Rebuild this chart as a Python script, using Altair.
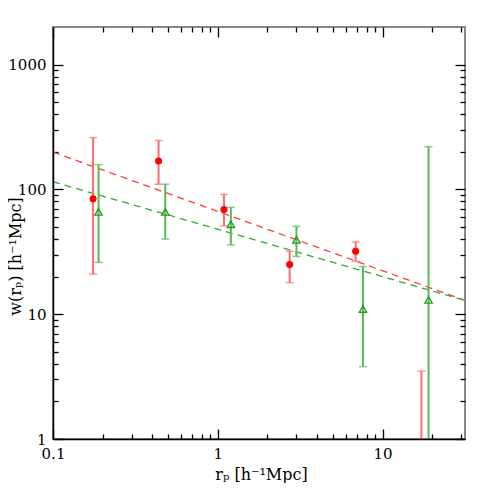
import altair as alt
import pandas as pd

# ---- data ----
red_x = [0.175, 0.437, 1.09, 2.73, 6.86, 17.2]
red_y = [84, 169, 69, 25, 31.9, None]
red_hi = [260, 247, 91, 31.9, 37.9, 3.5]
red_lo = [21, 110, 51, 17.9, 26.5, 0.3]

green_x = [0.189, 0.48, 1.2, 3.0, 7.6, 19.0]
green_y = [66, 66, 52.5, 39.4, 11.0, 13.0]
green_hi = [158, 110, 71.8, 50.6, 24.1, 220]
green_lo = [26, 40, 35.9, 29, 3.8, 0.3]

fit_x = [0.1, 31.62]
red_fit = [199, 12.9]
green_fit = [115, 12.9]

x_major = [0.1, 1, 10]
x_minor = [0.2, 0.3, 0.4, 0.5, 0.6, 0.7, 0.8, 0.9,
           2, 3, 4, 5, 6, 7, 8, 9, 20, 30]
y_major = [1, 10, 100, 1000]
y_minor = [2, 3, 4, 5, 6, 7, 8, 9,
           20, 30, 40, 50, 60, 70, 80, 90,
           200, 300, 400, 500, 600, 700, 800, 900]

series = ["red", "green"]
bar_colors = ["#ff6b6b", "#55bb55"]

# ---- tables ----
err = pd.DataFrame({
    "x": red_x + green_x,
    "lo": red_lo + green_lo,
    "hi": red_hi + green_hi,
    "s": ["red"] * len(red_x) + ["green"] * len(green_x),
})
pts_red = pd.DataFrame({"x": red_x, "y": red_y}).dropna()
pts_green = pd.DataFrame({"x": green_x, "y": green_y})
fit = pd.DataFrame({"x": fit_x, "red": red_fit, "green": green_fit})

FONT = "DejaVu Serif"
xscale = alt.Scale(type="log", domain=[0.1, 31.62], nice=False)
yscale = alt.Scale(type="log", domain=[1, 2000], nice=False)
cscale = alt.Scale(domain=series, range=bar_colors)

common = dict(grid=False, domain=False, tickColor="black", tickWidth=1.3)


def tick_axis(orient, values, size, labels=False, **kw):
    return alt.Axis(orient=orient, values=values, offset=-size, tickSize=size,
                    labels=labels, **common, **kw)


ax_bottom_major = tick_axis(
    "bottom", x_major, 10, labels=True, format="~g", labelFont=FONT,
    labelFontSize=15, labelColor="black", labelPadding=7, labelFlush=False,
    title="rₚ [h⁻¹Mpc]", titleFont=FONT, titleFontSize=16,
    titleFontWeight="normal", titleColor="black",
    titleX=208, titleY=37, titleAlign="center", titleBaseline="top")
ax_left_major = tick_axis(
    "left", y_major, 10, labels=True, format="~g", labelFont=FONT,
    labelFontSize=15, labelColor="black", labelPadding=7,
    title="w(rₚ) [h⁻¹Mpc]", titleFont=FONT, titleFontSize=16,
    titleFontWeight="normal", titleColor="black",
    titleX=-40, titleY=229, titleAlign="center", titleBaseline="bottom",
    titleAngle=270)
ax_bottom_minor = tick_axis("bottom", x_minor, 5, title=None)
ax_left_minor = tick_axis("left", y_minor, 5, title=None)
ax_top_major = tick_axis("top", x_major, 10, title=None)
ax_right_major = tick_axis("right", y_major, 10, title=None)
ax_top_minor = tick_axis("top", x_minor, 5, title=None)
ax_right_minor = tick_axis("right", y_minor, 5, title=None)
ax_bottom_dom = alt.Axis(orient="bottom", values=x_major, ticks=False, labels=False,
                         grid=False, domain=True, domainColor="black",
                         domainWidth=1.5, title=None, zindex=1)
ax_left_dom = alt.Axis(orient="left", values=y_major, ticks=False, labels=False,
                       grid=False, domain=True, domainColor="black",
                       domainWidth=1.5, title=None, zindex=1)

red_line = alt.Chart(fit).mark_line(
    color="#ff3b3b", strokeDash=[7, 5], strokeWidth=1.3, clip=True
).encode(
    x=alt.X("x:Q", scale=xscale, axis=ax_bottom_major),
    y=alt.Y("red:Q", scale=yscale, axis=ax_left_major),
)
green_line = alt.Chart(fit).mark_line(
    color="#33aa33", strokeDash=[7, 5], strokeWidth=1.3, clip=True
).encode(
    x=alt.X("x:Q", scale=xscale, axis=ax_bottom_minor),
    y=alt.Y("green:Q", scale=yscale, axis=ax_left_minor),
)
bars = alt.Chart(err).mark_rule(strokeWidth=2, clip=True).encode(
    x=alt.X("x:Q", scale=xscale, axis=ax_top_major),
    y=alt.Y("lo:Q", scale=yscale, axis=ax_right_major),
    y2="hi:Q",
    color=alt.Color("s:N", scale=cscale, legend=None),
)
caps_hi = alt.Chart(err).mark_tick(
    orient="horizontal", size=8, thickness=1.5, clip=True
).encode(
    x=alt.X("x:Q", scale=xscale, axis=ax_top_minor),
    y=alt.Y("hi:Q", scale=yscale, axis=ax_right_minor),
    color=alt.Color("s:N", scale=cscale, legend=None),
)
caps_lo = alt.Chart(err).mark_tick(
    orient="horizontal", size=8, thickness=1.5, clip=True
).encode(
    x=alt.X("x:Q", scale=xscale, axis=ax_bottom_dom),
    y=alt.Y("lo:Q", scale=yscale, axis=ax_left_dom),
    color=alt.Color("s:N", scale=cscale, legend=None),
)
red_pts = alt.Chart(pts_red).mark_point(
    shape="circle", filled=True, size=50, color="#ff0000", opacity=1, clip=True
).encode(
    x=alt.X("x:Q", scale=xscale, axis=None),
    y=alt.Y("y:Q", scale=yscale, axis=None),
)
green_pts = alt.Chart(pts_green).mark_point(
    shape="triangle-up", filled=False, size=55, color="#1f9a1f",
    strokeWidth=1.3, opacity=1, clip=True
).encode(
    x=alt.X("x:Q", scale=xscale, axis=None),
    y=alt.Y("y:Q", scale=yscale, axis=None),
)

chart = alt.layer(
    red_line, green_line, bars, caps_hi, caps_lo, red_pts, green_pts
).resolve_axis(
    x="independent", y="independent"
).properties(
    width=412, height=412,
    autosize=alt.AutoSizeParams(type="none"),
    padding={"left": 45, "top": 19, "right": 18, "bottom": 44},
).configure_view(stroke="#888888", strokeWidth=2)

chart.save("out.html", embed_options={"renderer": "svg", "actions": False})
